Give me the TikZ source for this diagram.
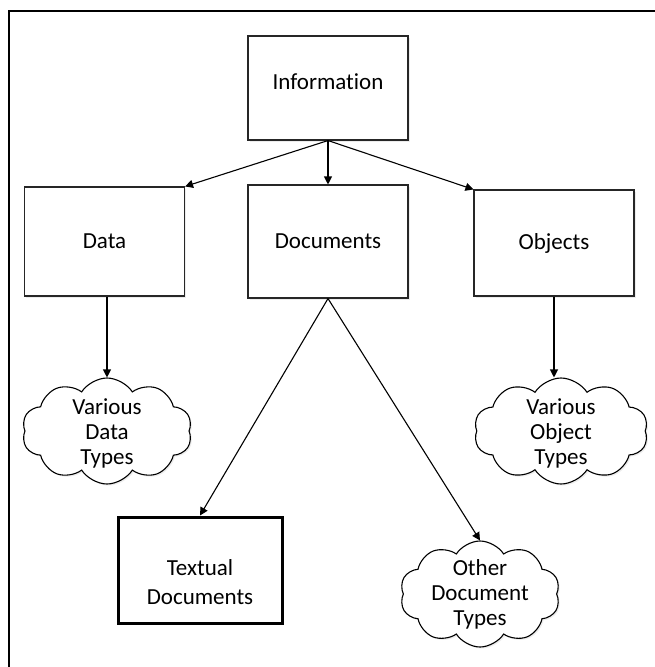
\documentclass[tikz,border=0pt]{standalone}
\usepackage{fontspec}
\setmainfont{Carlito}[Ligatures={NoCommon}]
\usetikzlibrary{shapes.symbols,arrows.meta,shadows}
\begin{document}
\begin{tikzpicture}[x=1pt,y=-1pt,
  lbl/.style={font=\fontsize{23}{25}\selectfont, align=center, inner sep=0pt},
  box/.style={lbl, draw=black!85, line width=1.1pt, fill=white,
    minimum width=160pt, minimum height=104pt,
    drop shadow={opacity=0.15, shadow xshift=1.5pt, shadow yshift=-1.5pt}},
  thickbox/.style={box, line width=3pt, draw=black},
  puff/.style={lbl, cloud, cloud puffs=10, cloud puff arc=115, cloud ignores aspect,
    draw=black, line width=1.1pt, fill=white,
    drop shadow={opacity=0.15, shadow xshift=1.5pt, shadow yshift=-1.5pt}},
  arr/.style={line width=1.1pt, -{Triangle[length=8pt,width=8pt]}}]
\useasboundingbox (0,0) rectangle (654,667);
\fill[white] (0,0) rectangle (654,667);
\draw[line width=1.3pt] (9,11) rectangle (680,690);

\node[box, label={[lbl, yshift=6pt]center:Information}] (info) at (328,88) {};
\node[box, minimum height=109pt] (data) at (104.5,241.5) {Data};
\node[box, minimum height=113pt] (docs) at (328,241.5) {Documents};
\node[box, minimum height=106pt] (objs) at (554,243) {Objects};

\node[puff, minimum width=170pt, minimum height=106pt,
  label={[lbl, yshift=-2pt]center:{Various\\Data\\Types}}] (dcloud) at (107,431) {};
\node[puff, minimum width=174pt, minimum height=106pt,
  label={[lbl, yshift=-2pt]center:{Various\\Object\\Types}}] (ocloud) at (561,431) {};
\node[thickbox, minimum width=164pt, minimum height=106pt,
  label={[lbl, font=\fontsize{23}{29}\selectfont, yshift=-12pt]center:{Textual\\Documents}}] (text) at (200,570) {};
\node[puff, minimum width=160pt, minimum height=106pt,
  label={[lbl, yshift=0pt]center:{Other\\Document\\Types}}] (ocloud2) at (480,594) {};

\draw[arr] (info.south) -- (data.north east);
\draw[arr] (info.south) -- (docs.north);
\draw[arr] (info.south) -- (objs.north west);
\draw[arr] (data.south -| dcloud.north) -- (dcloud.north);
\draw[arr] (objs.south) -- (objs.south |- ocloud.north);
\draw[arr] (docs.south) -- (text.north);
\draw[arr] (docs.south) -- (ocloud2.north);
\end{tikzpicture}
\end{document}
